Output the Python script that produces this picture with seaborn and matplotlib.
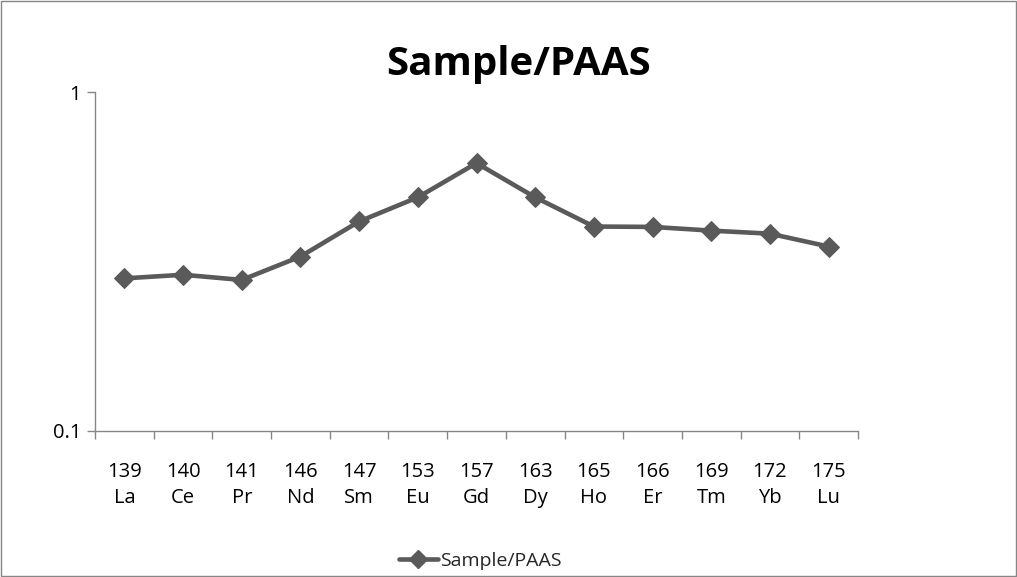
import matplotlib
matplotlib.use("Agg")
import matplotlib.pyplot as plt
import matplotlib.ticker as mticker
from matplotlib.lines import Line2D
from matplotlib.patches import Rectangle
import seaborn as sns
import pandas as pd
import numpy as np

masses = ["139", "140", "141", "146", "147", "153", "157", "163", "165", "166", "169", "172", "175"]
elements = ["La", "Ce", "Pr", "Nd", "Sm", "Eu", "Gd", "Dy", "Ho", "Er", "Tm", "Yb", "Lu"]
values = [0.282, 0.289, 0.279, 0.327, 0.415, 0.489, 0.617, 0.489, 0.401, 0.400, 0.390, 0.382, 0.350]
series_name = "Sample/PAAS"

sns.set_theme(style="white")
plt.rcParams['font.family'] = ['Open Sans', 'DejaVu Sans']

df = pd.DataFrame({"pos": np.arange(len(values)), "value": values})

fig = plt.figure(figsize=(10.17, 5.77), dpi=100)
ax = fig.add_axes([95/1017, 1-431/577, (858-95)/1017, (431-92)/577])

color = "#5a5a5a"
sns.lineplot(data=df, x="pos", y="value", ax=ax, color=color, linewidth=3.3,
             marker="D", markersize=10, markeredgecolor=color, markerfacecolor=color)

ax.set_yscale("log")
ax.set_ylim(0.1, 1)
ax.set_xlim(-0.5, len(values) - 0.5)
ax.yaxis.set_major_locator(mticker.FixedLocator([0.1, 1]))
ax.yaxis.set_major_formatter(mticker.FixedFormatter(["0.1", "1"]))
ax.yaxis.set_minor_locator(mticker.NullLocator())

ax.set_xticks(np.arange(len(values)))
ax.set_xticklabels([f"{m}\n{e}" for m, e in zip(masses, elements)], linespacing=1.4)
ax.set_xticks(np.arange(len(values) + 1) - 0.5, minor=True)
ax.tick_params(axis="x", which="both", bottom=True)
ax.tick_params(axis="y", which="both", left=True)
ax.tick_params(axis="x", which="major", length=0, pad=22, labelsize=14.5, colors="black")
ax.tick_params(axis="x", which="minor", length=6, width=1, color="#868686", direction="out")
ax.tick_params(axis="y", which="major", length=6, width=1, color="#868686", direction="out",
               labelsize=14.5, pad=4, labelcolor="black")
ax.set_xlabel("")
ax.set_ylabel("")

for s in ["top", "right"]:
    ax.spines[s].set_visible(False)
for s in ["left", "bottom"]:
    ax.spines[s].set_color("#868686")
    ax.spines[s].set_linewidth(1)

fig.text(519/1017, 1-64/577, series_name, ha="center", va="center",
         fontsize=29, fontweight="bold", color="black")

handle = Line2D([], [], color=color, linewidth=3.3, marker="D", markersize=9,
                markerfacecolor=color, markeredgecolor=color)
fig.legend([handle], [series_name], loc="center", bbox_to_anchor=(480/1017, 1-561/577),
           frameon=False, fontsize=14, handlelength=2.0, handletextpad=0.1)

fig.patches.append(Rectangle((0.001, 0.001), 0.998, 0.998, transform=fig.transFigure,
                             fill=False, edgecolor="#868686", linewidth=1))

fig.savefig("out.png", dpi=100)
